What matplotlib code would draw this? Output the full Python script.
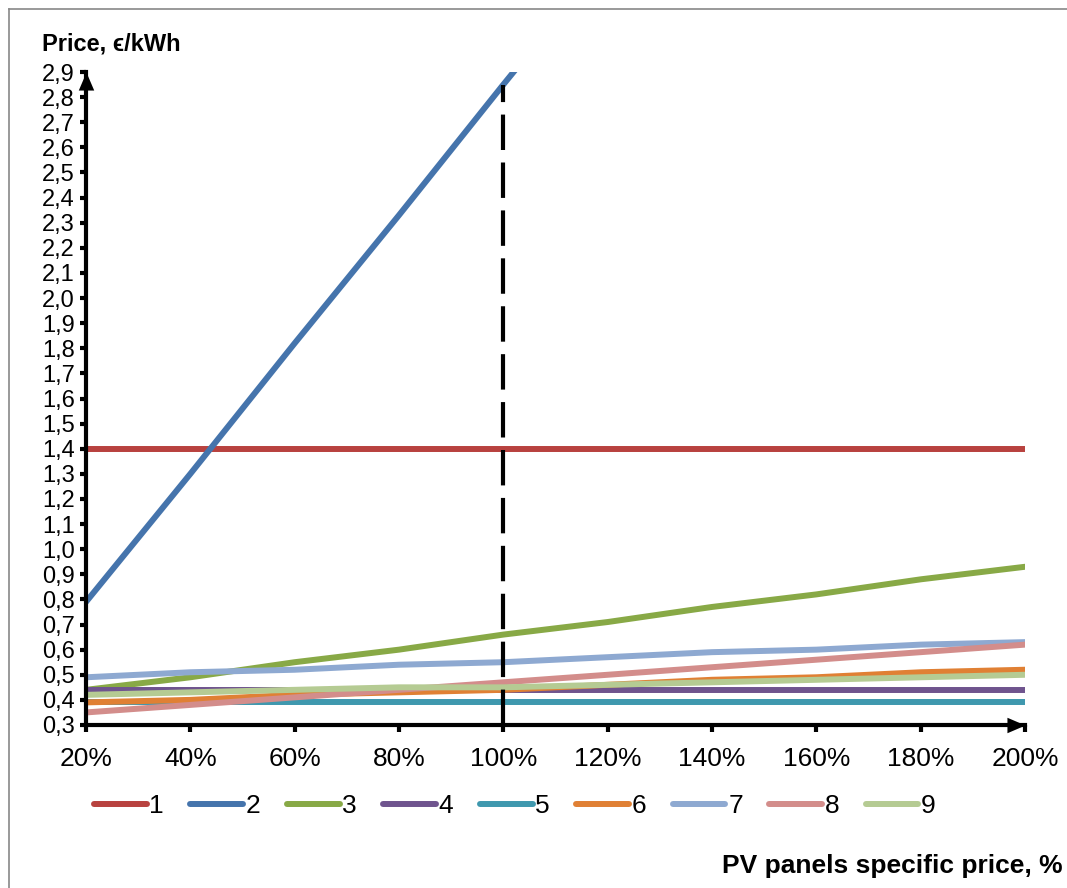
import numpy as np
import matplotlib.pyplot as plt
from matplotlib.lines import Line2D
from matplotlib.ticker import FixedLocator, FuncFormatter

plt.rcParams['font.family'] = ['Liberation Sans', 'DejaVu Sans']

# PV panel specific price, %
pv_price = [20, 40, 60, 80, 100, 120, 140, 160, 180, 200]

# electricity price for each option, EUR/kWh
s1 = [1.40, 1.40, 1.40, 1.40, 1.40, 1.40, 1.40, 1.40, 1.40, 1.40]
s2 = [0.79, 1.30, 1.82, 2.33, 2.85, 3.36, 3.88, 4.39, 4.91, 5.42]
s3 = [0.44, 0.49, 0.55, 0.60, 0.66, 0.71, 0.77, 0.82, 0.88, 0.93]
s4 = [0.44, 0.44, 0.44, 0.44, 0.44, 0.44, 0.44, 0.44, 0.44, 0.44]
s5 = [0.39, 0.39, 0.39, 0.39, 0.39, 0.39, 0.39, 0.39, 0.39, 0.39]
s6 = [0.39, 0.40, 0.42, 0.43, 0.44, 0.46, 0.48, 0.49, 0.51, 0.52]
s7 = [0.49, 0.51, 0.52, 0.54, 0.55, 0.57, 0.59, 0.60, 0.62, 0.63]
s8 = [0.35, 0.38, 0.41, 0.44, 0.47, 0.50, 0.53, 0.56, 0.59, 0.62]
s9 = [0.42, 0.43, 0.44, 0.45, 0.45, 0.46, 0.47, 0.48, 0.49, 0.50]

series = [s1, s2, s3, s4, s5, s6, s7, s8, s9]
names = ['1', '2', '3', '4', '5', '6', '7', '8', '9']
colors = ['#B8423F', '#4574AC', '#88A946', '#6F548E', '#3F98AE',
          '#E08034', '#8EA9D1', '#D38D8B', '#B5CB93']

# base price point marked with a dashed line
base_x = 100
base_y = 2.85

fig = plt.figure(figsize=(10.67, 8.88), dpi=100)
ax = fig.add_axes([86 / 1067, 163 / 888, 939 / 1067, 653 / 888])

for vals, name, c in zip(series, names, colors):
    ax.plot(pv_price, vals, color=c, lw=4.3, solid_capstyle='round', label=name)

ax.plot([base_x, base_x], [0.3, base_y], color='black', lw=3,
        dashes=(8.5, 3), zorder=5)

ax.set_xlim(20, 200)
ax.set_ylim(0.3, 2.9)

for side in ['top', 'right']:
    ax.spines[side].set_visible(False)
for side in ['left', 'bottom']:
    ax.spines[side].set_linewidth(3)
    ax.spines[side].set_zorder(6)

yt = np.round(np.arange(0.3, 2.91, 0.1), 1)
ax.yaxis.set_major_locator(FixedLocator(yt))
ax.yaxis.set_major_formatter(FuncFormatter(lambda v, p: f'{v:.1f}'.replace('.', ',')))
ax.xaxis.set_major_locator(FixedLocator(pv_price))
ax.xaxis.set_major_formatter(FuncFormatter(lambda v, p: f'{v:.0f}%'))
ax.tick_params(axis='y', direction='out', length=4, width=3, labelsize=17, pad=4)
ax.tick_params(axis='x', direction='out', length=5, width=3, labelsize=19, pad=11)

# arrow heads at the ends of both axes
ax.plot([0], [1], transform=ax.transAxes, clip_on=False, color='black',
        marker=[(0, 0), (-0.6, -1.4), (0.6, -1.4), (0, 0)], ms=26, mew=0, zorder=7)
ax.plot([1], [0], transform=ax.transAxes, clip_on=False, color='black',
        marker=[(0, 0), (-1.4, 0.6), (-1.4, -0.6), (0, 0)], ms=26, mew=0, zorder=7)

fig.text(42 / 1067, 1 - 44 / 888, 'Price, ϵ/kWh', fontsize=17, fontweight='bold',
         ha='left', va='center')
fig.text(1063 / 1067, 1 - 866 / 888, 'PV panels specific price, %', fontsize=19,
         fontweight='bold', ha='right', va='center')

handles = [Line2D([0], [0], color=c, lw=4.3, solid_capstyle='round') for c in colors]
fig.legend(handles, names, loc='center left', bbox_to_anchor=(94 / 1067, 1 - 806 / 888),
           ncol=9, frameon=False, handlelength=2.0, handletextpad=0.1,
           columnspacing=1.0, borderpad=0, borderaxespad=0,
           prop={'family': ['Liberation Sans', 'DejaVu Sans'], 'size': 19})

# chart frame
fig.add_artist(Line2D([9 / 1067, 9 / 1067], [0, 1 - 9 / 888], transform=fig.transFigure,
                      color='#888888', lw=1.2))
fig.add_artist(Line2D([9 / 1067, 1], [1 - 9 / 888, 1 - 9 / 888], transform=fig.transFigure,
                      color='#888888', lw=1.2))

fig.savefig('out.png', dpi=100)
